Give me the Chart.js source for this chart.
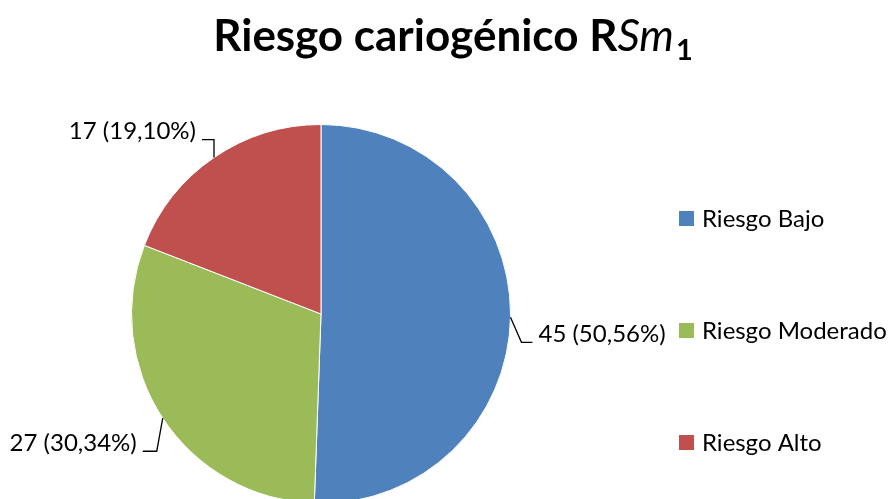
<!DOCTYPE html>
<html>
<head>
<meta charset="utf-8">
<script src="https://cdn.jsdelivr.net/npm/chart.js@4"></script>
<style>
  html, body { margin: 0; padding: 0; background: #fff; overflow: hidden; }
  #wrap { width: 895px; height: 510px; position: relative; }
</style>
</head>
<body>
<div id="wrap"><canvas id="myChart" width="895" height="510"></canvas></div>
<script>
// chart data
const categories = ["Riesgo Bajo", "Riesgo Moderado", "Riesgo Alto"];
const counts = [45, 27, 17];
const sliceColors = ["#4F81BD", "#9BBB59", "#C0504D"];

// leader line elbows, relative to the slice edge point (dx, dy), then horizontal run
const leaderElbow = [[11, 25, 11], [-6, 33, -14], [0, -18, -12]];

const FONT = "Lato, 'Open Sans', sans-serif";
const total = counts.reduce((a, b) => a + b, 0);

function pctText(v) {
    return v + " (" + (v / total * 100).toFixed(2).replace(".", ",") + "%)";
}

const titleLegendPlugin = {
    id: "titleLegend",
    afterDraw(chart) {
        const ctx = chart.ctx;
        ctx.save();
        ctx.fillStyle = "#000";
        ctx.textBaseline = "alphabetic";

        // title with italic "Sm" and subscript 1
        const parts = [
            { t: "Riesgo cariogénico R", f: "bold 44px " + FONT, dy: 0 },
            { t: "Sm", f: "italic 44px " + FONT, dy: 0 },
            { t: "1", f: "bold 29px " + FONT, dy: 9 }
        ];
        let w = 0;
        parts.forEach(p => { ctx.font = p.f; p.w = ctx.measureText(p.t).width; w += p.w; });
        let x = 452 - w / 2;
        ctx.textAlign = "left";
        parts.forEach(p => { ctx.font = p.f; ctx.fillText(p.t, x, 51 + p.dy); x += p.w + (p.t === "Sm" ? 2 : 0); });

        // data labels with leader lines
        const meta = chart.getDatasetMeta(0);
        ctx.font = "24px " + FONT;
        ctx.strokeStyle = "#000";
        ctx.lineWidth = 1.3;
        meta.data.forEach((arc, i) => {
            const p = arc.getProps(["x", "y", "startAngle", "endAngle", "outerRadius"], true);
            const mid = (p.startAngle + p.endAngle) / 2;
            const ax = p.x + Math.cos(mid) * p.outerRadius;
            const ay = p.y + Math.sin(mid) * p.outerRadius;
            const e = leaderElbow[i];
            const ex = ax + e[0], ey = ay + e[1];
            const hx = ex + e[2];
            ctx.beginPath();
            ctx.moveTo(ax, ay);
            ctx.lineTo(ex, ey);
            ctx.lineTo(hx, ey);
            ctx.stroke();
            ctx.textBaseline = "middle";
            if (e[2] > 0) {
                ctx.textAlign = "left";
                ctx.fillText(pctText(counts[i]), hx + 6, ey - 8);
            } else {
                ctx.textAlign = "right";
                ctx.fillText(pctText(counts[i]), hx - 6, ey - 8);
            }
        });

        // legend
        const legendY = [218, 330, 442];
        ctx.font = "24px " + FONT;
        ctx.textAlign = "left";
        ctx.textBaseline = "middle";
        categories.forEach((c, i) => {
            ctx.fillStyle = sliceColors[i];
            ctx.fillRect(679, legendY[i] - 7, 15, 15);
            ctx.fillStyle = "#000";
            ctx.fillText(c, 702, legendY[i] + 1);
        });
        ctx.restore();
    }
};

const ctx = document.getElementById("myChart").getContext("2d");
const myChart = new Chart(ctx, {
    type: "pie",
    data: {
        labels: categories,
        datasets: [{
            data: counts,
            backgroundColor: sliceColors,
            borderColor: "#ffffff",
            borderWidth: 1
        }]
    },
    options: {
        responsive: false,
        animation: false,
        layout: { padding: { left: 131, right: 384, top: 124, bottom: 6 } },
        plugins: {
            legend: { display: false },
            title: { display: false },
            tooltip: { enabled: false }
        }
    },
    plugins: [titleLegendPlugin]
});
</script>
</body>
</html>
